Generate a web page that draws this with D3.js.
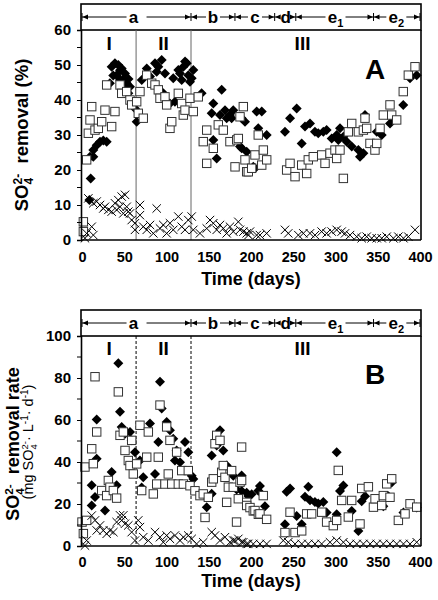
<!DOCTYPE html>
<html><head><meta charset="utf-8">
<script src="https://cdn.jsdelivr.net/npm/d3@7"></script>
<style>body{margin:0;background:#fff}svg{display:block}text{font-family:"Liberation Sans",Arial,sans-serif}</style>
</head><body><svg id="c" width="438" height="600"></svg>
<script>
// ---------- DATA ----------
const xTicks = [0,50,100,150,200,250,300,350,400];
const yTicksA = [0,10,20,30,40,50,60];
const yTicksB = [0,20,40,60,80,100];
const phaseBounds = [64,129];
const phaseLabels = ["I","II","III"];
const stageBounds = [0,129,181,228,253,345,400];
const stageLabels = [["a",""],["b",""],["c",""],["d",""],["e","1"],["e","2"]];
const stageLabelDays = [61,155,204.7,241,300,372];

// Panel A: SO4 removal (%)
const aDiamond = [[8.7,11.4],[9.5,23.8],[10.3,17.6],[13.4,23.8],[13.4,25.7],[17.4,27.1],[21.3,28.1],[25.2,28.4],[29.2,28.1],[33,44.8],[35.1,49.5],[37,47],[39,50.5],[41,47.1],[43,50],[45,45.7],[45,48.5],[47,49],[48.9,42.9],[49,46],[50.9,47.6],[51,45.5],[53,44.8],[54.8,41.9],[55,46],[56.8,43.8],[58.8,39],[62.7,37.6],[64.7,33.8],
[70.7,45.7],[76.6,49],[80.5,46.7],[86.4,50.5],[88.4,48.1],[90.3,49.5],[94.3,51.4],[96.2,41.9],[98.2,47.6],[104,39],[108,46.2],[110,39.5],[114,48.6],[116,47.6],[118,45.7],[120,49.5],[122,51],[124,50.5],[125.8,47.1],[127.8,45.2],[129.8,46.2],[131.7,48.6],
[141.6,41.9],[153.5,36.2],[155.4,39],[155.4,28.6],[159.4,23.3],[163.3,35.7],[165.3,42.9],[169.2,37.1],[171.2,34.8],[175.1,35.7],[177.1,34.8],[179,37.1],[187,26.7],[189,34.8],[189,26.2],[192.9,33.8],[194.9,25.2],[202.7,20.9],[204.7,20.5],[206.7,36.7],[208.6,31.9],[212.7,36.7],[218.6,30],
[240.2,30.9],[246.2,34.8],[254.1,37.6],[260,27.6],[263.9,32.4],[269.8,33.3],[275.7,30.9],[279.6,30.5],[285.6,30.9],[289.5,31.4],[295.5,29],[301.4,30],[303.3,28.6],[305.3,31.9],[309.3,29.5],[313.3,28.1],[319.2,26.7],[327.1,25.7],[329,23.8],[333,24.8],[334.9,35.7],[348.8,30.9],[354.7,30],[364.5,33.3],[368.4,34.8],[380.2,38.6],[388.2,46.2],[396.1,47.1]];
const aSquare = [[1.6,5.2],[1.6,2.4],[5.5,22.9],[7.5,30.5],[9.5,34.3],[11.5,38.1],[15.4,31.4],[19.3,31.9],[23.3,33.8],[27.2,37.1],[29.2,44.3],[35.1,32.4],[39,36.7],[45,44.3],[47,41.9],[52.9,42.4],[56.8,40],[58.8,38.6],[64.7,39.5],[66.6,36.2],[68.6,42.4],[72.5,34.8],[76.6,47.1],[82.5,44.8],[86.4,44.3],[90.3,42.9],[92.3,40.5],[98.2,40.9],[100.2,38.6],[104.1,31.9],[106.2,33.8],[114,41.9],[118,39],[119.9,35.7],[121.9,37.1],[127.8,40.5],[131.7,36.7],[137.6,40.9],
[143.5,28.1],[147.6,31.4],[147.6,21.9],[155.4,26.2],[161.3,32.9],[167.2,31.4],[175.1,28.1],[181.1,20.9],[183.1,28.6],[185,29],[187,35.2],[190.9,38.1],[192.9,22.9],[194.9,19.5],[196.8,19.5],[200.8,20.5],[204.7,24.3],[208.6,30],[212.7,21.4],[214.6,25.7],[218.6,22.9],
[242.2,20],[246.2,21.9],[252.1,18.1],[260,21.4],[265.9,19],[267.8,22.9],[273.7,23.8],[283.7,24.3],[287.6,21.9],[293.5,24.8],[299.4,25.7],[301.4,23.3],[305.3,25.7],[309.3,17.6],[315.2,30.9],[319.2,33.3],[327.1,30.9],[333,31.4],[334.9,34.8],[336.9,31.9],[340.8,27.6],[346.7,25.7],[348.8,27.6],[352.7,31.9],[356.6,35.7],[364.5,38.6],[366.5,35.7],[372.4,34.3],[380.2,42.4],[386.2,47.1],[394.1,49.5]];
const aCross = [[3.5,0.5],[5.5,1.9],[7.5,11.9],[11.5,3.8],[13.4,10.5],[13.4,1.4],[17.4,11],[21.3,10],[25.2,9],[27.2,9.5],[31.2,8.6],[35.1,8.1],[39,10.5],[41,8.6],[43,11.4],[45,9.5],[47,12.4],[48.9,7.6],[50.9,12.9],[52.9,9.5],[54.8,8.1],[56.8,7.6],[58.8,5.7],[62.7,4.8],[62.7,2.9],[68.6,10],[68.6,7.1],[72.5,3.8],[76.6,2.9],[80.5,4.3],[84.4,1.9],[88.4,9],[92.3,3.3],[96.2,4.3],[100.2,1.9],[104.1,4.8],[108,2.9],[114,6.7],[118,3.8],[121.9,2.9],[125.8,5.7],[129.8,6.7],[131.7,2.9],[139.6,1.9],[147.6,3.3],[151.5,5.7],[155.4,4.8],[159.4,2.9],[163.3,4.3],[167.2,3.3],[171.2,1.9],[175.1,3.8],[179,2.4],[185,5.2],[187,2.9],[191,2.4],[194.9,1.9],[197,1.4],[198.8,2.4],[206.7,1.4],[210.6,1.4],[218.5,1.9],[240.2,2.9],[244.1,1.9],[256,1.4],[261.9,1.9],[269.8,1.9],[275.7,1.4],[283.6,2.4],[289.5,1.9],[295.5,2.4],[301.4,2.9],[307.3,2.4],[311.3,1.9],[317.2,1.4],[325.1,0.95],[331,0.5],[336.9,0.95],[342.8,0.5],[348.8,0.5],[354.7,0.5],[360.6,0.95],[368.5,0.5],[374.4,0.95],[380.4,0.5],[386.2,0.95],[394.1,2.9]];

// Panel B: SO4 removal rate (mg SO4 L-1 d-1)
const bDiamond = [[11.5,28.9],[11.5,19.3],[15.4,23.3],[17.4,60.2],[17.4,41.6],[27.2,16.9],[35.1,35.2],[41,28.9],[43,87],[45,63.9],[47,56.7],[50.9,53.5],[56.8,54.3],[58.8,50.3],[62.7,44.7],[68.6,40.7],[70.6,27.9],[72.5,32.7],[80.5,58.3],[86.4,34.3],[90.3,49.5],[92.3,78.2],[94.3,65.5],[100.2,59.1],[104.1,55.1],[108,51.1],[110,40.7],[112,45.5],[116,39.9],[121.9,49.5],[125.8,44.7],[129.8,33.5],[131.7,31.9],[147.6,18.5],[153.5,24.9],[153.5,43.1],[159.4,47.9],[163.3,55.1],[167.2,45.5],[171.2,38.3],[179,33.5],[183,26.9],[188.9,33.6],[189,26.2],[194.9,25.4],[196.8,23.8],[200.8,24.7],[208.7,26.3],[210.6,28.6],[216.5,18.9],
[240.2,10.4],[242.2,25.8],[246.2,27.4],[254.1,14.3],[260,10.4],[263.9,23.4],[267.8,28.2],[269.8,21.8],[275.7,21],[279.6,20.2],[285.6,21],[289.5,15.9],[301.4,44.7],[301.4,15.1],[305.3,26.2],[309.3,28.8],[319.2,16.7],[327.1,7.2],[331,21.3],[335,23.7],[356.6,18.9],[362.6,23.7],[366.5,30.2],[380.4,15.9],[396.1,18.3]];
const bSquare = [[0,11.4],[1.6,5.9],[3.5,37.6],[5.5,12.2],[11.5,46.3],[13.4,39.2],[15.4,80.6],[17.4,54.3],[23.3,26.4],[29.2,24],[31.2,31.2],[33.1,28],[37.1,26.4],[41,22.8],[43,73.4],[45,52.7],[48.9,54.3],[50.9,45.5],[54.8,40.7],[56.8,38.3],[58.8,50.3],[60.7,34.3],[64.7,39.1],[68.6,57.5],[70.6,26.4],[76.6,42.3],[78.5,54.3],[84.4,24.8],[88.4,29.5],[90.3,42.3],[92.3,67.1],[98.2,29.5],[100.2,56.7],[102.1,34.3],[104.1,50.3],[106.2,29.5],[112,44.7],[114,29.5],[118,35.9],[120,29.5],[125.8,35.9],[127.8,28.7],[133.7,26.3],[139.6,24],[143.5,24.8],[145.6,13.6],[149.5,23.2],[153.5,30.4],[155.4,32],[157.4,48.7],[159.4,52.7],[163.3,50.3],[165.3,35.1],[167.2,38.3],[169.2,32.7],[171.2,20.8],[173.2,28],[177.1,35.9],[179,28],[182.9,11.4],[185,22.5],[187,30.4],[188.9,47.1],[188.9,31.2],[194.9,20.8],[194.9,19.3],[198.8,18.3],[202.7,16.7],[204.7,16.9],[208.7,15.1],[210.6,15.3],[214.5,24],[218.5,12.7],
[240.2,6.4],[246.2,16.1],[252.1,6.4],[260,7.2],[265.9,15.3],[271.8,15.3],[283.7,16.1],[289.5,11.4],[297.4,9.7],[301.4,12.2],[303.3,36],[307.3,21.7],[315.2,13.8],[319.2,21.7],[329,10.5],[331,27.4],[338.9,28.2],[344.9,18.5],[346.8,22.5],[354.7,19.3],[356.6,24],[360.6,29.6],[364.5,23.2],[366.5,32],[374.4,12.2],[382.3,15.3],[388.2,20.1],[396.1,18.5]];
const bCross = [[3.5,0.2],[5.5,2.6],[11.5,14.5],[15.4,12.2],[17.4,7.4],[21.3,9.8],[25.2,7.4],[29.2,5.8],[33.1,7.4],[37.1,6.6],[41,11.4],[45,14.6],[47,12.2],[48.9,14.6],[50.9,10.6],[54.8,9.8],[58.8,6.6],[62.7,2.6],[66.6,12.2],[68.6,9],[72.5,4.2],[78.5,2.6],[86.4,6.6],[92.3,4.2],[96.2,1.8],[100.2,5],[104.1,3.4],[110,5],[116,2.6],[120,4.2],[125.8,5],[129.8,3.4],[135.6,1],[143.5,1.8],[153.5,6.6],[157.4,5],[163.3,2.6],[169.2,4.2],[175.1,1.8],[179,2.6],[181,2.6],[185,3.4],[188.9,1.8],[190.9,1.8],[194.9,1],[196.8,1],[202.7,1],[210.6,1],[218.5,1],[238.2,2.6],[244.1,1.8],[252.1,1],[260,1],[267.8,1],[275.7,1],[283.6,1],[293.5,1.8],[301.4,2.6],[309.3,1.8],[317.2,1],[325.1,1],[333,1],[341,1],[348.8,1],[356.6,1],[364.5,1],[372.4,1],[380.4,1],[388.2,1],[396.1,1.8]];

// ---------- DRAW ----------
const svg = d3.select("#c");
const x = d3.scaleLinear().domain([0,400]).range([82,420]);
const FONT = '"Liberation Sans",Arial,sans-serif';
const boxL = 81, boxR = 421;

function panel(cfg){
  const g = svg.append("g");
  const y = d3.scaleLinear().domain(cfg.yDomain).range([cfg.yBot, cfg.yTop]);
  g.append("rect").attr("x",boxL).attr("y",cfg.headTop).attr("width",boxR-boxL).attr("height",cfg.yTop-cfg.headTop)
    .attr("fill","none").attr("stroke","#000").attr("stroke-width",1.6);
  const ay = (cfg.headTop+cfg.yTop)/2;
  stageLabels.forEach((lab,i)=>{
    const x0 = i===0 ? boxL+1 : x(stageBounds[i]);
    const x1 = i===stageLabels.length-1 ? boxR-1 : x(stageBounds[i+1]);
    const lx = x(stageLabelDays[i]);
    const half = lab[1] ? 10 : 7;
    g.append("line").attr("x1",x0).attr("x2",x0).attr("y1",ay-4).attr("y2",ay+4).attr("stroke","#000").attr("stroke-width",1);
    g.append("line").attr("x1",x0).attr("x2",lx-half).attr("y1",ay).attr("y2",ay).attr("stroke","#000").attr("stroke-width",1);
    g.append("line").attr("x1",lx+half+(i===0?6:0)).attr("x2",x1).attr("y1",ay).attr("y2",ay).attr("stroke","#000").attr("stroke-width",1);
    g.append("path").attr("d",`M${x0+0.5},${ay}L${x0+6},${ay-2.5}L${x0+6},${ay+2.5}Z`).attr("fill","#000");
    g.append("path").attr("d",`M${x1-0.5},${ay}L${x1-6},${ay-2.5}L${x1-6},${ay+2.5}Z`).attr("fill","#000");
    const t = g.append("text").attr("x",lx).attr("y",ay+5.5).attr("text-anchor","middle")
      .attr("font-size",17).attr("font-weight","bold").text(lab[0]);
    if(lab[1]) t.append("tspan").attr("font-size",11).attr("dy",4).text(lab[1]);
  });
  g.append("line").attr("x1",boxR-1).attr("x2",boxR-1).attr("y1",ay-4).attr("y2",ay+4).attr("stroke","#000").attr("stroke-width",1);

  phaseBounds.forEach(d=>{
    g.append("line").attr("x1",x(d)).attr("x2",x(d)).attr("y1",cfg.yTop).attr("y2",cfg.yBot)
      .attr("stroke",cfg.dash?"#000":"#666").attr("stroke-width",1).attr("stroke-dasharray",cfg.dash?"3,2":null);
  });
  const phaseX = [x(32), x(96.5), x(261)];
  phaseLabels.forEach((p,i)=>{
    g.append("text").attr("x",phaseX[i]).attr("y",cfg.phaseY).attr("text-anchor","middle")
      .attr("font-size",19).attr("font-weight","bold").text(p);
  });
  g.append("text").attr("x",375).attr("y",cfg.letterY).attr("text-anchor","middle")
    .attr("font-size",28).attr("font-weight","bold").text(cfg.letter);

  const pts = g.append("g");
  pts.selectAll("path.dia").data(cfg.dia).join("path").attr("class","dia")
    .attr("d",d=>{const cx=x(d[0]),cy=y(d[1]),r=5;return `M${cx},${cy-r}L${cx+r},${cy}L${cx},${cy+r}L${cx-r},${cy}Z`;})
    .attr("fill","#000");
  pts.selectAll("rect.sq").data(cfg.sq).join("rect").attr("class","sq")
    .attr("x",d=>x(d[0])-4.2).attr("y",d=>y(d[1])-4.2).attr("width",8.4).attr("height",8.4)
    .attr("fill","#fff").attr("stroke","#333").attr("stroke-width",1);
  pts.selectAll("path.cr").data(cfg.cr).join("path").attr("class","cr")
    .attr("d",d=>{const cx=x(d[0]),cy=y(d[1]),r=4.2;return `M${cx-r},${cy-r}L${cx+r},${cy+r}M${cx-r},${cy+r}L${cx+r},${cy-r}`;})
    .attr("stroke","#000").attr("stroke-width",1).attr("fill","none");

  g.append("line").attr("x1",boxR).attr("x2",boxR).attr("y1",cfg.yTop).attr("y2",cfg.yBot).attr("stroke","#000").attr("stroke-width",1.6);
  const ya = d3.axisLeft(y).tickValues(cfg.yTicks).tickSize(4).tickFormat(d3.format("d"));
  const yg = g.append("g").attr("transform",`translate(${boxL},0)`).call(ya);
  yg.select(".domain").attr("stroke-width",1.6);
  yg.selectAll("text").attr("font-size",15).attr("font-weight","bold").attr("font-family",FONT).attr("fill","#000").attr("x",-10);
  const minor = d3.range(cfg.yDomain[0]+cfg.minorStep, cfg.yDomain[1], cfg.minorStep*2);
  g.append("g").selectAll("line").data(minor).join("line")
    .attr("x1",boxL-4).attr("x2",boxL).attr("y1",d=>y(d)).attr("y2",d=>y(d)).attr("stroke","#000").attr("stroke-width",1);
  const xa = d3.axisBottom(x).tickValues(xTicks).tickSize(0).tickPadding(0);
  const xg = g.append("g").attr("transform",`translate(0,${cfg.yBot})`).call(xa);
  xg.select(".domain").attr("stroke-width",1.6).attr("d",`M${boxL},0H${boxR}`);
  xg.selectAll("text").attr("font-size",14.5).attr("font-weight","bold").attr("font-family",FONT).attr("fill","#000")
    .attr("dy",null).attr("y",cfg.xLabY-cfg.yBot);
  g.append("text").attr("x",251).attr("y",cfg.titleY).attr("text-anchor","middle")
    .attr("font-size",18).attr("font-weight","bold").text("Time (days)");
  return g;
}

panel({yDomain:[0,60], yTop:30, yBot:240, headTop:4, yTicks:yTicksA, minorStep:5,
  dia:aDiamond, sq:aSquare, cr:aCross, letter:"A", letterY:79, phaseY:50, dash:false, xLabY:262, titleY:285});
panel({yDomain:[0,100], yTop:336, yBot:546, headTop:310, yTicks:yTicksB, minorStep:10,
  dia:bDiamond, sq:bSquare, cr:bCross, letter:"B", letterY:384, phaseY:355, dash:true, xLabY:567, titleY:587});

function so4(t, size){
  t.append("tspan").text("SO");
  t.append("tspan").attr("font-size",size*0.65).attr("dy",size*0.28).text("4");
  t.append("tspan").attr("font-size",size*0.65).attr("dx",-size*0.36).attr("dy",-size*0.62).text("2-");
  return t;
}
const l1 = svg.append("text").attr("transform","translate(28,135) rotate(-90)").attr("text-anchor","middle")
  .attr("font-size",18.5).attr("font-weight","bold");
so4(l1,18.5); l1.append("tspan").attr("dy",18.5*0.34).text("\u00a0 removal (%)");

const l2 = svg.append("text").attr("transform","translate(19,444) rotate(-90)").attr("text-anchor","middle")
  .attr("font-size",18).attr("font-weight","bold");
so4(l2,18); l2.append("tspan").attr("dy",18*0.34).text("\u00a0 removal rate");

const l3 = svg.append("text").attr("transform","translate(33,442) rotate(-90)").attr("text-anchor","middle")
  .attr("font-size",14.5);
l3.append("tspan").text("(mg ");
so4(l3,14.5);
l3.append("tspan").attr("dy",14.5*0.34).text("\u00b7 L");
l3.append("tspan").attr("font-size",10).attr("dy",-5.5).text("-1");
l3.append("tspan").attr("dy",5.5).text("\u00b7 d");
l3.append("tspan").attr("font-size",10).attr("dy",-5.5).text("-1");
l3.append("tspan").attr("dy",5.5).text(")");
</script></body></html>
